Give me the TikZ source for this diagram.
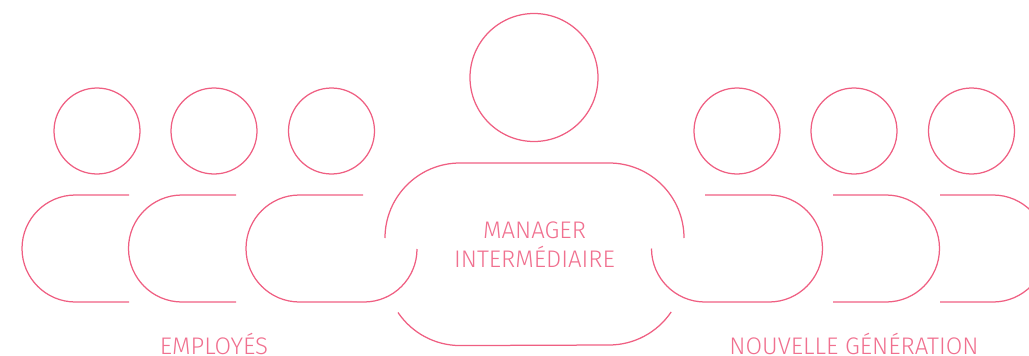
\documentclass[tikz,border=0pt]{standalone}
\usepackage{fontspec}
\setmainfont{Fira Sans Light}
\definecolor{lin}{HTML}{EF5F82}
\definecolor{txt}{HTML}{F0708F}
\tikzset{
  outline/.style={draw=lin,line width=1.25pt,fill=none},
  head/.style={circle,outline,inner sep=0pt,minimum size=86pt},
  bighead/.style={circle,outline,inner sep=0pt,minimum size=128pt},
  lab/.style={text=txt,font=\fontsize{24}{28}\selectfont,anchor=base,inner sep=0pt,text depth=0pt}
}
\begin{document}
\begin{tikzpicture}[x=1pt,y=-1pt]
\useasboundingbox (0,0) rectangle (1029,356);
\clip (0,0) rectangle (1029,356);
% heads
\node[head] (h1) at (97,131) {};
\node[head] (h2) at (214,131) {};
\node[head] (h3) at (331.5,131) {};
\node[head] (h4) at (737,131) {};
\node[head] (h5) at (854,131) {};
\node[head] (h6) at (971.5,131) {};
\node[bighead] (h0) at (534,77.5) {};
% left bodies
\draw[outline] (129,195) -- (75.5,195) arc[start angle=270,end angle=90,radius=53.5] -- (129,302);
\draw[outline] (236,195) -- (182,195) arc[start angle=270,end angle=90,radius=53.5] -- (236,302);
\draw[outline] (363,195) -- (299.5,195) arc[start angle=270,end angle=90,radius=53.5] -- (364,302) arc[start angle=90,end angle=0,radius=53];
% right bodies
\draw[outline] (705,195) -- (769,195) arc[start angle=-90,end angle=90,radius=53.5] -- (705,302) arc[start angle=90,end angle=180,radius=53.5];
\draw[outline] (833,195) -- (886,195) arc[start angle=-90,end angle=90,radius=53.5] -- (833,302);
\draw[outline] (940,195) -- (993,195) arc[start angle=-90,end angle=90,radius=53.5] -- (940,302);
% centre body
\draw[outline] (385,238) arc[start angle=180,end angle=270,radius=75] -- (609,163) arc[start angle=-90,end angle=0,radius=75];
\draw[outline] (398,312.5) arc[start angle=146,end angle=90,radius=75] -- (609,345) arc[start angle=90,end angle=34,radius=75];
% labels
\node[lab] (m1) at (534.5,238) {MANAGER};
\node[lab] (m2) at (534.5,267) {INTERMÉDIAIRE};
\node[lab] (e) at (214,354) {EMPLOYÉS};
\node[lab] (n) at (854,354) {NOUVELLE GÉNÉRATION};
\end{tikzpicture}
\end{document}
